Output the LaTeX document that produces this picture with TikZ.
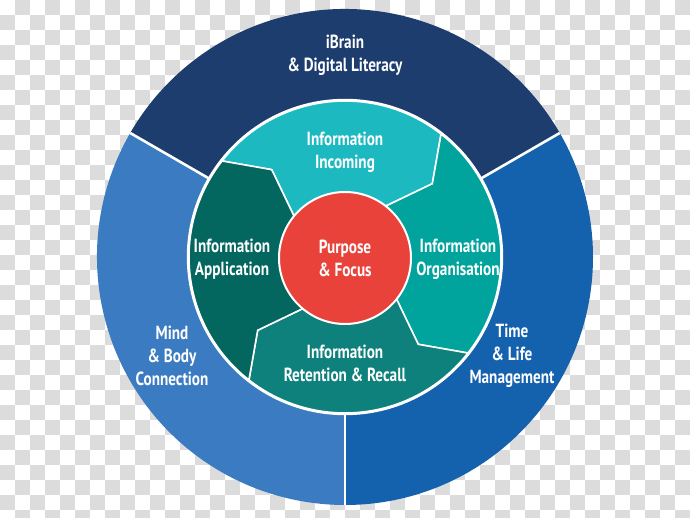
\documentclass[tikz,border=0pt]{standalone}
\usepackage{fontspec}
\setmainfont{PT Sans}[FakeStretch=0.80]
\usepackage{tikz}
\usetikzlibrary{positioning}
\definecolor{checkgray}{HTML}{DCDCDC}
\definecolor{ringtop}{HTML}{1C3D6E}
\definecolor{ringleft}{HTML}{3B7BC1}
\definecolor{ringright}{HTML}{1461AE}
\definecolor{tealbright}{HTML}{1CBAC0}
\definecolor{tealmid}{HTML}{00A49C}
\definecolor{tealdeep}{HTML}{0F817C}
\definecolor{tealdark}{HTML}{03665F}
\definecolor{corered}{HTML}{E9423A}
\tikzset{
  divider/.style={white,line width=2.6pt},
  wedge/.style={draw=white,line width=1.6pt,line join=round},
  wheeltext/.style={text=white,font=\bfseries\fontsize{19}{23}\selectfont,align=center,inner sep=0pt},
  corecircle/.style={circle,fill=corered,draw=white,line width=2pt,minimum size=132pt,wheeltext}
}
\begin{document}
\begin{tikzpicture}[x=1pt,y=1pt]
  \clip (-345,-261) rectangle (345,257);
  % transparent background checks
  \fill[white] (-345,-261) rectangle (345,257);
  \foreach \i in {0,...,45}
    \foreach \j in {0,...,34}{
      \pgfmathtruncatemacro{\chk}{mod(\i+\j,2)}
      \ifnum\chk=1 \fill[checkgray] ({-345+15*\i},{257-15*\j}) rectangle +(15,-15); \fi
    }
  % outer ring
  \fill[ringtop] (0,0) -- (30:248) arc[start angle=30,end angle=150,radius=248] -- cycle;
  \fill[ringleft] (0,0) -- (150:248) arc[start angle=150,end angle=270,radius=248] -- cycle;
  \fill[ringright] (0,0) -- (270:248) arc[start angle=270,end angle=390,radius=248] -- cycle;
  \foreach \a in {30,150,270} \draw[divider] (\a:150) -- (\a:248);
  % inner wheel, one arrow per stage
  \foreach \b/\col in {51/tealbright,-39/tealmid,-129/tealdeep,141/tealdark}
    \filldraw[wedge,fill=\col]
      (0,0) -- (\b:66) -- ({\b-11}:114) -- ({\b+1}:156)
      arc[start angle={\b+1},end angle={\b+91},radius=156]
      -- ({\b+79}:114) -- ({\b+90}:66) -- cycle;
  \draw[white,line width=2.4pt] (0,0) circle (157);
  \node[corecircle] (purpose) at (0,-1) {Purpose\\\& Focus};
  % labels
  \node[wheeltext] (ibrain) at (0,202) {iBrain\\\& Digital Literacy};
  \node[wheeltext] (incoming) at (0,104.5) {Information\\Incoming};
  \node[wheeltext] (application) at (-113,-2.5) {Information\\Application};
  \node[wheeltext] (organisation) at (113,-2.5) {Information\\Organisation};
  \node[wheeltext] (retention) at (0,-106.5) {Information\\Retention \& Recall};
  \node[wheeltext] (mind) at (-173,-99) {Mind\\\& Body\\Connection};
  \node[wheeltext] (time) at (167,-99) {Time\\\& Life\\Management};
\end{tikzpicture}
\end{document}
